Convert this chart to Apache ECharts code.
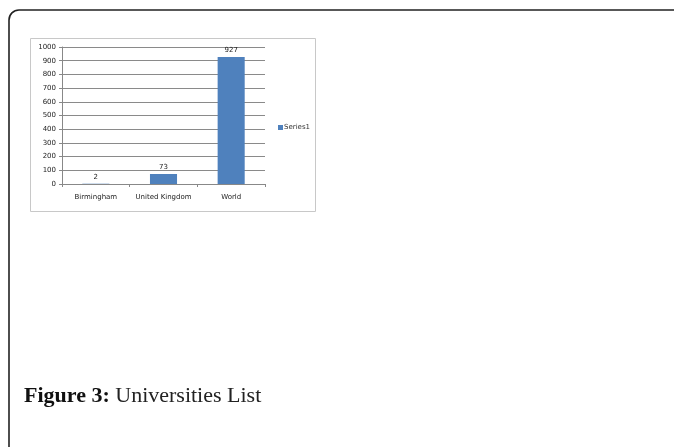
<!DOCTYPE html>
<html><head><meta charset="utf-8">
<script src="https://cdn.jsdelivr.net/npm/echarts@6/dist/echarts.min.js"></script>
<style>html,body{margin:0;padding:0;background:#fff}#c{width:674px;height:447px}</style>
</head><body><div id="c"></div>
<script>
const categories = ["Birmingham", "United Kingdom", "World"];
const seriesName = "Series1";
const values = [2, 73, 927];
const yTicks = [0, 100, 200, 300, 400, 500, 600, 700, 800, 900, 1000];

const chart = echarts.init(document.getElementById('c'));
chart.setOption({
  animation: false,
  backgroundColor: '#fff',
  textStyle: { fontFamily: 'DejaVu Sans' },
  graphic: [
    { type: 'rect', shape: { x: 9, y: 10, width: 700, height: 500, r: [10, 0, 0, 0] },
      style: { fill: 'none', stroke: '#222', lineWidth: 1.6 }, z: -10 },
    { type: 'rect', shape: { x: 30.5, y: 38.5, width: 285, height: 173 },
      style: { fill: '#fff', stroke: '#c8c8c8', lineWidth: 1 }, z: -5 },
    { type: 'text', left: 24, top: 385,
      style: { rich: { b: { fontFamily: 'Liberation Serif', fontWeight: 'bold', fontSize: 22, fill: '#111' },
                       n: { fontFamily: 'Liberation Serif', fontSize: 22, fill: '#222' } },
               text: '{b|Figure 3:}{n| Universities List}' } }
  ],
  legend: {
    data: [seriesName], left: 273, top: 119, itemWidth: 5, itemHeight: 5, itemGap: 2,
    icon: 'rect', textStyle: { fontSize: 7, color: '#333', padding: [0, 0, 0, -4] }
  },
  grid: { left: 62, right: 409, top: 47, bottom: 263, containLabel: false },
  xAxis: {
    type: 'category', data: categories,
    axisLine: { lineStyle: { color: '#888' } },
    axisTick: { show: true, length: 3, lineStyle: { color: '#888' } },
    axisLabel: { fontSize: 7, color: '#222', margin: 10, interval: 0 }
  },
  yAxis: {
    type: 'value', min: yTicks[0], max: yTicks[yTicks.length - 1], interval: 100,
    axisLine: { show: true, lineStyle: { color: '#888' } },
    axisTick: { show: true, length: 3, lineStyle: { color: '#888' } },
    axisLabel: { fontSize: 7, color: '#222', margin: 6, formatter: v => String(v) },
    splitLine: { lineStyle: { color: '#8a8a8a', width: 1 } }
  },
  series: [{
    name: seriesName, type: 'bar', data: values, barWidth: '40%',
    itemStyle: { color: '#4f81bd' },
    label: { show: true, position: 'top', fontSize: 7, color: '#222', distance: 3 }
  }]
});
</script></body></html>
